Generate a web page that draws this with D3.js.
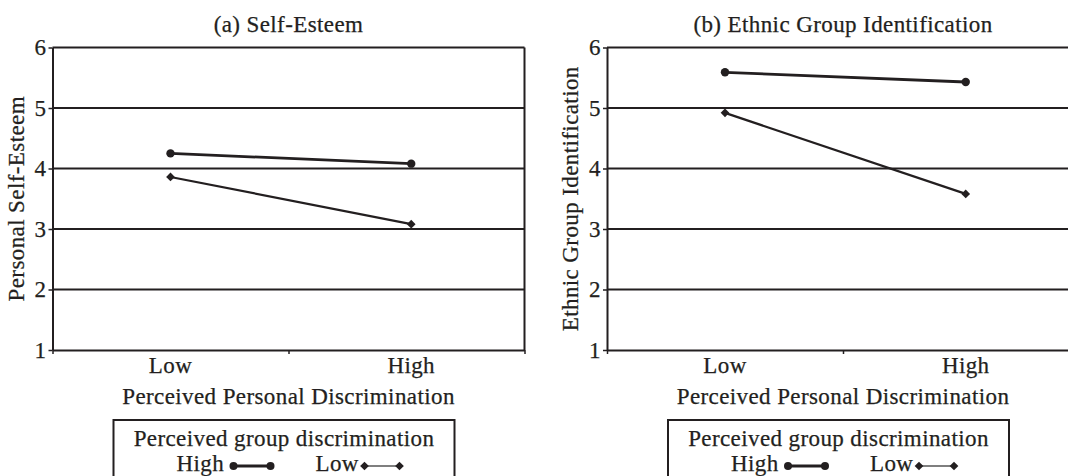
<!DOCTYPE html>
<html>
<head>
<meta charset="utf-8">
<script src="https://cdn.jsdelivr.net/npm/d3@7"></script>
<style>
body { margin: 0; background: #fff; }
text { font-family: "Liberation Serif", "Times New Roman", serif; fill: #231f20; stroke: #231f20; stroke-width: 0.25px; letter-spacing: 0.4px; }
</style>
</head>
<body>
<div id="chart"></div>
<script>
// x categories: perceived personal discrimination
var categories = ["Low", "High"];
// series: perceived group discrimination
var groupLevels = ["High", "Low"];
var selfEsteemHigh = [4.25, 4.08];
var selfEsteemLow = [3.86, 3.08];
var ethnicIdHigh = [5.59, 5.43];
var ethnicIdLow = [4.92, 3.58];
var yTicks = [1, 2, 3, 4, 5, 6];

var width = 1068;
var height = 476;
var ink = "#231f20";
var fs = 23;

var svg = d3.select("#chart")
    .append("svg")
    .attr("width", width)
    .attr("height", height);

// diamond marker = square turned 45 degrees
var diamond = d3.symbol().type(d3.symbolSquare).size(38);

function panel(x0, title, yTitle, highVals, lowVals) {
    var w = 472;
    var mid = x0 + w / 2;
    var x = d3.scalePoint().domain(categories).range([x0 + w * 0.25, x0 + w * 0.76]);
    var y = d3.scaleLinear().domain([1, 6]).range([350, 47.5]);
    var g = svg.append("g");

    // horizontal grid lines
    g.selectAll(".grid")
        .data(yTicks.slice(1))
        .enter()
        .append("line")
        .attr("x1", x0)
        .attr("x2", x0 + w)
        .attr("y1", d => y(d))
        .attr("y2", d => y(d))
        .attr("stroke", ink)
        .attr("stroke-width", 2);

    // right border of the plot box
    g.append("line")
        .attr("x1", x0 + w)
        .attr("x2", x0 + w)
        .attr("y1", y(6))
        .attr("y2", y(1))
        .attr("stroke", ink)
        .attr("stroke-width", 2);

    // y axis
    var yAxis = d3.axisLeft(y).tickValues(yTicks).tickSize(4).tickSizeOuter(0).tickPadding(2).tickFormat(d3.format("d"));
    var ya = g.append("g")
        .attr("transform", "translate(" + x0 + ",0)")
        .call(yAxis)
        .attr("font-size", fs);
    ya.select(".domain").attr("stroke", ink).attr("stroke-width", 2);
    ya.selectAll(".tick line").attr("stroke", ink).attr("stroke-width", 1.5);

    // x axis, ticks sit between the categories
    var edge = d3.scaleLinear().domain([0, 2]).range([x0, x0 + w]);
    var xa = g.append("g")
        .attr("transform", "translate(0," + y(1) + ")")
        .call(d3.axisBottom(edge).tickValues([0, 1, 2]).tickSize(4).tickSizeOuter(0).tickFormat(""));
    xa.select(".domain").attr("stroke", ink).attr("stroke-width", 2);
    xa.selectAll(".tick line").attr("stroke", ink).attr("stroke-width", 1.5);

    g.selectAll(".xlab")
        .data(categories)
        .enter()
        .append("text")
        .attr("x", d => x(d))
        .attr("y", 373)
        .attr("text-anchor", "middle")
        .attr("font-size", fs)
        .text(d => d);

    g.append("text") // x title
        .attr("x", mid)
        .attr("y", 404)
        .attr("text-anchor", "middle")
        .attr("font-size", fs)
        .text("Perceived Personal Discrimination");

    g.append("text") // panel title
        .attr("x", mid)
        .attr("y", 32)
        .attr("text-anchor", "middle")
        .attr("font-size", fs)
        .text(title);

    g.append("text") // y title
        .attr("transform", "translate(" + (x0 - 29) + "," + ((y(1) + y(6)) / 2) + ") rotate(-90)")
        .attr("text-anchor", "middle")
        .attr("font-size", fs)
        .text(yTitle);

    // series lines
    var line = d3.line().x((d, i) => x(categories[i])).y(d => y(d));
    g.append("path")
        .attr("d", line(highVals))
        .attr("fill", "none")
        .attr("stroke", ink)
        .attr("stroke-width", 2.8);
    g.append("path")
        .attr("d", line(lowVals))
        .attr("fill", "none")
        .attr("stroke", ink)
        .attr("stroke-width", 2.2);

    g.selectAll(".dotHigh")
        .data(highVals)
        .enter()
        .append("circle")
        .attr("cx", (d, i) => x(categories[i]))
        .attr("cy", d => y(d))
        .attr("r", 4.2)
        .attr("fill", ink);

    g.selectAll(".dotLow")
        .data(lowVals)
        .enter()
        .append("path")
        .attr("d", diamond)
        .attr("transform", (d, i) => "translate(" + x(categories[i]) + "," + y(d) + ") rotate(45)")
        .attr("fill", ink);

    // legend box (runs off the bottom of the picture)
    var lx = x0 + 61;
    var lg = g.append("g").attr("transform", "translate(" + lx + ",420)");
    lg.append("rect")
        .attr("x", 0)
        .attr("y", 0)
        .attr("width", 341)
        .attr("height", 90)
        .attr("fill", "none")
        .attr("stroke", ink)
        .attr("stroke-width", 2);
    lg.append("text")
        .attr("x", 170.5)
        .attr("y", 26)
        .attr("text-anchor", "middle")
        .attr("font-size", fs)
        .text("Perceived group discrimination");

    lg.append("text")
        .attr("x", 63)
        .attr("y", 51)
        .attr("font-size", fs)
        .text(groupLevels[0]);
    lg.append("line")
        .attr("x1", 120).attr("x2", 157)
        .attr("y1", 46).attr("y2", 46)
        .attr("stroke", ink)
        .attr("stroke-width", 3);
    lg.selectAll(".lgDot")
        .data([120, 157])
        .enter()
        .append("circle")
        .attr("cx", d => d)
        .attr("cy", 46)
        .attr("r", 4)
        .attr("fill", ink);

    lg.append("text")
        .attr("x", 202)
        .attr("y", 51)
        .attr("font-size", fs)
        .text(groupLevels[1]);
    lg.append("line")
        .attr("x1", 251).attr("x2", 286)
        .attr("y1", 46).attr("y2", 46)
        .attr("stroke", "#555")
        .attr("stroke-width", 1.3);
    lg.selectAll(".lgDia")
        .data([251, 286])
        .enter()
        .append("path")
        .attr("d", diamond)
        .attr("transform", d => "translate(" + d + ",46) rotate(45)")
        .attr("fill", ink);
}

panel(52.5, "(a) Self-Esteem", "Personal Self-Esteem", selfEsteemHigh, selfEsteemLow);
panel(607, "(b) Ethnic Group Identification", "Ethnic Group Identification", ethnicIdHigh, ethnicIdLow);
</script>
</body>
</html>
